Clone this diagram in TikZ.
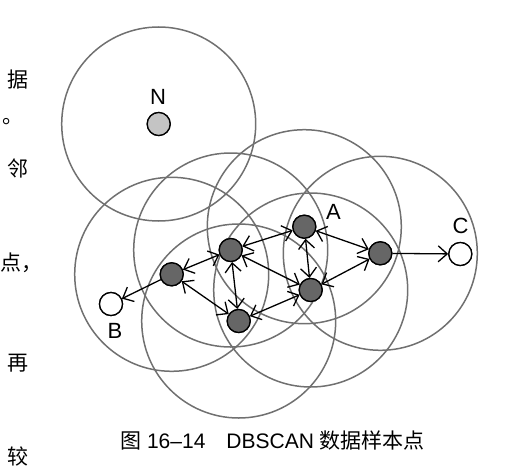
\documentclass[tikz,border=0pt]{standalone}
\usepackage{fontspec}
\setmainfont{Liberation Sans}
\newfontfamily\cjk{Noto Sans CJK SC}
\usetikzlibrary{arrows.meta}
\definecolor{coregray}{HTML}{666666}
\definecolor{noisegray}{HTML}{C4C4C4}
\definecolor{ringgray}{HTML}{707070}
\tikzset{
    sample/.style={
        circle,
        draw=black,
        line width=1.3pt,
        minimum size=23pt,
        inner sep=0pt
    },
    core/.style={
        sample,
        fill=coregray
    },
    noise/.style={
        sample,
        fill=noisegray
    },
    border/.style={
        sample,
        fill=white
    },
    eps/.style={
        draw=ringgray,
        line width=1.5pt
    },
    link/.style={
        {Straight Barb[length=9pt,width=16pt]}-{Straight Barb[length=9pt,width=16pt]},
        line width=1.3pt
    },
    arrow/.style={
        -{Straight Barb[length=9pt,width=16pt]},
        line width=1.3pt
    },
    label/.style={
        font=\fontsize{22}{22}\selectfont,
        inner sep=0pt
    },
    margin/.style={
        font=\cjk\fontsize{21}{21}\selectfont,
        inner sep=0pt
    }
}
\begin{document}
\begin{tikzpicture}[x=1pt, y=-1pt]

    \useasboundingbox (0,0) rectangle (510,468);
    \clip (0,0) rectangle (510,468);

    % Text of the page beside the figure
    \node[margin, anchor=east] (txt1) at (28.5, 80) {据};
    \node[margin, anchor=west] (txt2) at (2, 122) {。};
    \node[margin, anchor=east] (txt3) at (28.5, 168) {邻};
    \node[margin, anchor=west] (txt4) at (0.5, 263) {点，};
    \node[margin, anchor=east] (txt5) at (28.5, 363) {再};
    \node[margin, anchor=east] (txt6) at (28.5, 456) {较};

    % Sample points
    \node[noise] (ptN) at (158.7, 124) {};
    \node[core] (pt1) at (171.7, 274.3) {};
    \node[core] (pt2) at (230.7, 250) {};
    \node[core] (pt3) at (238.7, 321) {};
    \node[core] (pt4) at (304.3, 226.7) {};
    \node[core] (pt5) at (310.7, 290) {};
    \node[core] (pt6) at (380.3, 253.3) {};
    \node[border] (ptB) at (111, 304) {};
    \node[border] (ptC) at (460.3, 254) {};

    % Eps neighbourhoods
    \draw[eps] (ptN) circle[radius=97pt];
    \draw[eps] (pt1) circle[radius=97pt];
    \draw[eps] (pt2) circle[radius=97pt];
    \draw[eps] (pt3) circle[radius=97pt];
    \draw[eps] (pt4) circle[radius=97pt];
    \draw[eps] (pt5) circle[radius=97pt];
    \draw[eps] (pt6) circle[radius=97pt];

    % Density links
    \draw[link] (pt1) -- (pt2);
    \draw[link] (pt1) -- (pt3);
    \draw[link] (pt2) -- (pt4);
    \draw[link] (pt2) -- (pt3);
    \draw[link] (pt2) -- (pt5);
    \draw[link] (pt3) -- (pt5);
    \draw[link] (pt4) -- (pt5);
    \draw[link] (pt4) -- (pt6);
    \draw[link] (pt5) -- (pt6);
    \draw[arrow] (pt1) -- (ptB);
    \draw[arrow] (pt6) -- (ptC);

    % Points drawn again over the rings
    \node[noise] at (ptN) {};
    \foreach \i in {1,...,6} {
        \node[core] at (pt\i) {};
    }
    \node[border] at (ptB) {};
    \node[border] at (ptC) {};

    % Labels
    \node[label] (labN) at (158, 96.5) {N};
    \node[label] (labA) at (333.5, 212) {A};
    \node[label] (labB) at (115, 331) {B};
    \node[label] (labC) at (460.5, 225.8) {C};

    % Caption
    \node[font=\fontsize{21}{21}\selectfont, inner sep=0pt] (caption) at (272.5, 440.7)
        {{\cjk 图} 16–14\quad DBSCAN {\cjk 数据样本点}};

\end{tikzpicture}
\end{document}
